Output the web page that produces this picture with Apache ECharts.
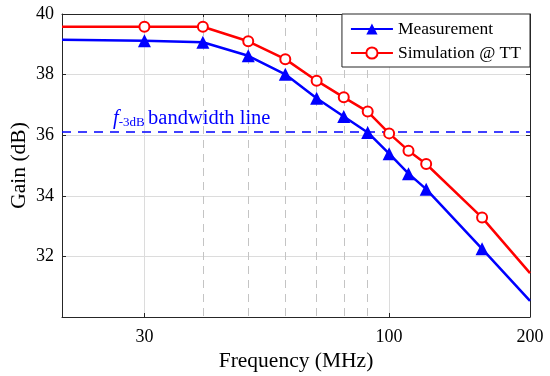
<!DOCTYPE html>
<html>
<head>
<meta charset="utf-8">
<script src="https://cdn.jsdelivr.net/npm/echarts@6/dist/echarts.min.js"></script>
<style>
html,body{margin:0;padding:0;background:#fff;}
#c{width:550px;height:376px;}
</style>
</head>
<body>
<div id="c"></div>
<script>
var freq = [20, 30, 40, 50, 60, 70, 80, 90, 100, 110, 120, 158, 200];
var gainMeas = [39.15, 39.12, 39.07, 38.62, 38.01, 37.22, 36.62, 36.09, 35.39, 34.73, 34.22, 32.25, 30.53];
var gainSim = [39.58, 39.58, 39.58, 39.10, 38.51, 37.80, 37.25, 36.78, 36.06, 35.49, 35.05, 33.28, 31.45];
var bandwidthLevel = 36.1;
var xMajorTicks = [30, 100, 200];
var xMinorTicks = [40, 50, 60, 70, 80, 90];
var seriesNames = ['Measurement', 'Simulation @ TT'];

var FONT = "'Liberation Serif','Times New Roman',serif";
var AX = '#262626';

function pts(ys) {
  return freq.map(function (f, i) {
    var d = { value: [f, ys[i]] };
    if (i === 0 || i === freq.length - 1) d.symbol = 'none';
    return d;
  });
}

var chart = echarts.init(document.getElementById('c'), null, { renderer: 'canvas' });
chart.setOption({
  animation: false,
  backgroundColor: '#fff',
  grid: { left: 62, right: 20, top: 14, bottom: 59, containLabel: false, outerBoundsMode: 'none' },
  xAxis: [{
    type: 'log', logBase: 10, min: 20, max: 200, position: 'bottom',
    name: 'Frequency (MHz)', nameLocation: 'middle', nameGap: 33, nameMoveOverlap: false,
    nameTextStyle: { fontFamily: FONT, fontSize: 21.5, color: '#000' },
    axisLine: { show: true, lineStyle: { color: AX, width: 1 } },
    axisTick: { show: true, inside: true, length: 4, customValues: xMajorTicks, lineStyle: { color: AX } },
    axisLabel: { show: true, customValues: xMajorTicks, margin: 11, fontFamily: FONT, fontSize: 18, color: '#000' },
    splitLine: { show: true, lineStyle: { color: '#dcdcdc', width: 1 } }
  }, {
    type: 'log', logBase: 10, min: 20, max: 200, position: 'top',
    axisLine: { show: true, onZero: false, lineStyle: { color: AX, width: 1 } },
    axisTick: { show: true, inside: true, length: 3, customValues: xMinorTicks, lineStyle: { color: AX } },
    axisLabel: { show: false },
    splitLine: { show: true, lineStyle: { color: '#c4c4c4', width: 1, type: [8, 6] } }
  }],
  yAxis: [{
    type: 'value', min: 30, max: 40, interval: 2, position: 'left',
    name: 'Gain (dB)', nameLocation: 'middle', nameGap: 32, nameMoveOverlap: false,
    nameTextStyle: { fontFamily: FONT, fontSize: 21.5, color: '#000' },
    axisLine: { show: true, lineStyle: { color: AX, width: 1 } },
    axisTick: { show: true, inside: true, length: 4, lineStyle: { color: AX } },
    axisLabel: { margin: 8, fontFamily: FONT, fontSize: 18, color: '#000',
      formatter: function (v) { return v === 30 ? '' : String(v); } },
    splitLine: { show: true, lineStyle: { color: '#dcdcdc', width: 1 } }
  }, {
    type: 'value', min: 30, max: 40, interval: 2, position: 'right',
    axisLine: { show: true, lineStyle: { color: AX, width: 1 } },
    axisTick: { show: true, inside: true, length: 4, lineStyle: { color: AX } },
    axisLabel: { show: false },
    splitLine: { show: false }
  }],
  legend: {
    top: 14, right: 20, orient: 'vertical', align: 'left',
    backgroundColor: '#fff', borderColor: AX, borderWidth: 1, borderRadius: 0,
    padding: [6, 9, 5, 8], itemGap: 6, itemWidth: 42, itemHeight: 14,
    textStyle: { fontFamily: FONT, fontSize: 17.5, color: '#000' },
    data: seriesNames
  },
  series: [{
    name: seriesNames[0], type: 'line', xAxisIndex: 0, yAxisIndex: 0,
    data: pts(gainMeas),
    symbol: 'triangle', symbolSize: 13,
    lineStyle: { color: '#0000ff', width: 2.5 },
    itemStyle: { color: '#0000ff' },
    z: 5,
    markLine: {
      silent: true, symbol: 'none',
      lineStyle: { color: '#0000ff', width: 1.5, type: [9, 7] },
      label: {
        show: true, position: 'insideStartTop', distance: 3,
        padding: [0, 0, 0, 48],
        formatter: '{f|f}{s|-3dB} {t|bandwidth line}',
        rich: {
          f: { fontFamily: FONT, fontStyle: 'italic', fontSize: 20.5, color: '#0000ff' },
          s: { fontFamily: FONT, fontSize: 13, color: '#0000ff', verticalAlign: 'bottom', padding: [9, 0, 0, 0] },
          t: { fontFamily: FONT, fontSize: 20.5, color: '#0000ff' }
        }
      },
      data: [{ yAxis: bandwidthLevel }]
    }
  }, {
    name: seriesNames[1], type: 'line', xAxisIndex: 0, yAxisIndex: 0,
    data: pts(gainSim),
    symbol: 'emptyCircle', symbolSize: 10,
    lineStyle: { color: '#ff0000', width: 2.5 },
    itemStyle: { color: '#ff0000', borderWidth: 2 },
    z: 6
  }]
});
</script>
</body>
</html>
